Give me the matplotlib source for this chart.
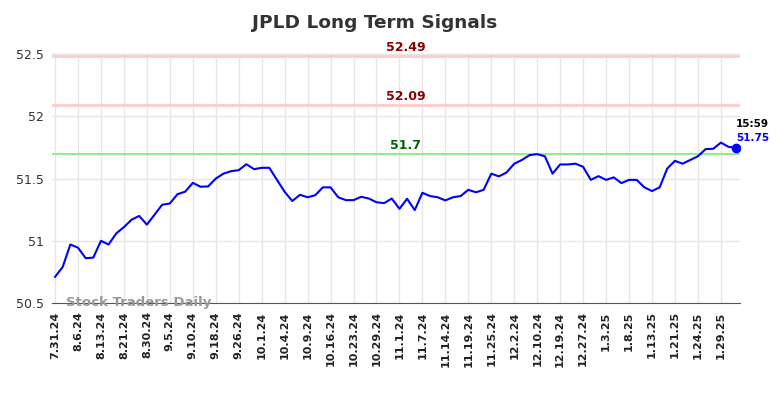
import matplotlib
matplotlib.use("Agg")
import matplotlib.pyplot as plt

# closing prices, one point every ~2 sessions
prices = [50.71, 50.79, 50.97, 50.945, 50.86, 50.865, 51.0, 50.97, 51.06, 51.11,
          51.17, 51.20, 51.13, 51.21, 51.29, 51.30, 51.375, 51.395, 51.466, 51.435,
          51.437, 51.50, 51.54, 51.56, 51.568, 51.616, 51.576, 51.587, 51.587, 51.49,
          51.394, 51.32, 51.37, 51.35, 51.367, 51.43, 51.43, 51.35, 51.327, 51.327,
          51.354, 51.34, 51.31, 51.303, 51.34, 51.257, 51.338, 51.247, 51.386, 51.36,
          51.35, 51.325, 51.35, 51.36, 51.41, 51.39, 51.41, 51.54, 51.518, 51.55,
          51.62, 51.65, 51.689, 51.697, 51.68, 51.54, 51.614, 51.614, 51.62, 51.595,
          51.49, 51.52, 51.49, 51.51, 51.464, 51.49, 51.49, 51.43, 51.40, 51.43,
          51.582, 51.643, 51.62, 51.65, 51.68, 51.737, 51.74, 51.79, 51.755, 51.75]

tick_labels = ["7.31.24", "8.6.24", "8.13.24", "8.21.24", "8.30.24", "9.5.24",
               "9.10.24", "9.18.24", "9.26.24", "10.1.24", "10.4.24", "10.9.24",
               "10.16.24", "10.23.24", "10.29.24", "11.1.24", "11.7.24", "11.14.24",
               "11.19.24", "11.25.24", "12.2.24", "12.10.24", "12.19.24", "12.27.24",
               "1.3.25", "1.8.25", "1.13.25", "1.21.25", "1.24.25", "1.29.25"]

red_levels = [52.49, 52.09]
green_level = 51.7
last_time = "15:59"

fig = plt.figure(figsize=(7.84, 3.98), dpi=100)
ax = fig.add_axes([0.0663, 0.2387, 0.8776, 0.6281])

x = list(range(len(prices)))
ax.set_xlim(-0.4, 89.5)
ax.set_ylim(50.5, 52.51)

for lv in red_levels:
    ax.axhline(lv, color="#ffcccc", lw=2, zorder=1)
    ax.text(45.8, lv + 0.015, str(lv), color="#8b0000", fontsize=9, fontweight="bold",
            ha="center", va="bottom", clip_on=False)
ax.axhline(green_level, color="#90ee90", lw=1.5, zorder=1)
ax.text(45.8, green_level + 0.015, str(green_level), color="#006400", fontsize=9,
        fontweight="bold", ha="center", va="bottom")

ax.plot(x, prices, color="#0000ff", lw=1.5, zorder=3)
ax.plot(x[-1], prices[-1], "o", color="#0000ff", ms=6, zorder=4)
ax.text(x[-1], prices[-1] + 0.15, last_time, fontsize=7.5, fontweight="bold",
        color="black", ha="left", va="bottom", clip_on=False)
ax.text(x[-1], prices[-1] + 0.04, f"{prices[-1]:.2f}", fontsize=7.5, fontweight="bold",
        color="#0000ff", ha="left", va="bottom", clip_on=False)

ax.set_xticks(range(0, len(prices), 3))
ax.set_xticklabels(tick_labels, rotation=90, fontsize=8, fontweight="bold", color="#222222")
ax.set_yticks([50.5, 51, 51.5, 52, 52.5])
ax.set_yticklabels(["50.5", "51", "51.5", "52", "52.5"], fontsize=9, color="#333333")
ax.tick_params(axis="both", length=0, pad=6)

ax.grid(True, color="#e6e6e6", lw=1)
ax.set_axisbelow(True)
for s in ["top", "right", "left"]:
    ax.spines[s].set_visible(False)
ax.spines["bottom"].set_color("#555555")

ax.text(0.02, 0.0, "Stock Traders Daily", transform=ax.transAxes, fontsize=9.5,
        fontweight="bold", color="#999999", ha="left", va="center", zorder=5)

fig.suptitle("JPLD Long Term Signals", x=0.478, y=0.965, fontsize=13.3,
             fontweight="bold", color="#333333")

fig.savefig("out.png", dpi=100)
